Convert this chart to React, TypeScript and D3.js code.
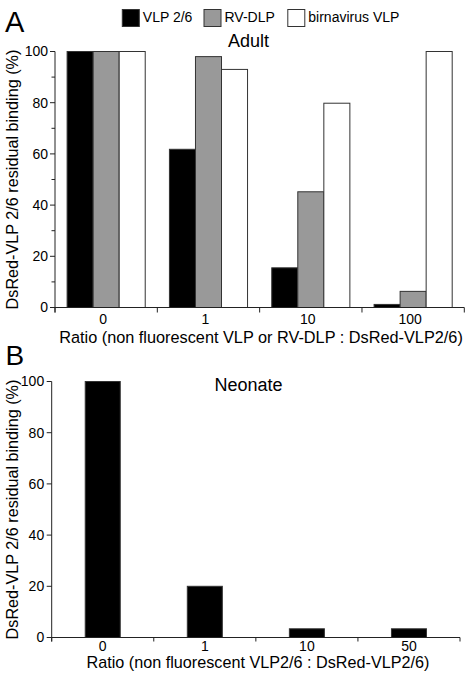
import React from "react";
import * as d3 from "d3";

const categoriesA = ["0", "1", "10", "100"];
const seriesNames = ["VLP 2/6", "RV-DLP", "birnavirus VLP"];
const seriesColors = ["#000000", "#999999", "#ffffff"];
const vlp26Adult = [100, 61.8, 15.5, 1.2];
const rvDlpAdult = [100, 98, 45.2, 6.3];
const birnaAdult = [100, 93, 79.8, 100];
const categoriesB = ["0", "1", "10", "50"];
const vlp26Neonate = [100, 20, 3.4, 3.4];
const yTicks = [0, 20, 40, 60, 80, 100];
const yMinorA = [10, 30, 50, 70, 90];

const FONT = "'Liberation Sans', Arial, Helvetica, sans-serif";
const YLABEL = "DsRed-VLP 2/6 residual binding (%)";

export default function App() {
  // Panel A geometry
  const A = { left: 55, right: 464.3, top: 51.5, bottom: 307.5 };
  const B = { left: 51.7, right: 460, top: 381.5, bottom: 637.5 };

  const xA = d3.scaleBand<string>().domain(categoriesA).range([A.left, A.right]).padding(0);
  const yA = d3.scaleLinear().domain([0, 100]).range([A.bottom, A.top]);
  const inner = d3
    .scaleBand<string>()
    .domain(seriesNames)
    .range([0, xA.bandwidth()])
    .paddingInner(0)
    .paddingOuter(0.465);
  const seriesA = [vlp26Adult, rvDlpAdult, birnaAdult];

  const xB = d3.scaleBand<string>().domain(categoriesB).range([B.left, B.right]).padding(0);
  const yB = d3.scaleLinear().domain([0, 100]).range([B.bottom, B.top]);
  const barWB = xB.bandwidth() * 0.343;

  const boundA = [...categoriesA.map((c) => xA(c)!), A.right];
  const boundB = [...categoriesB.map((c) => xB(c)!), B.right];

  const axisColor = "#222";

  return (
    <svg
      width={475}
      height={675}
      style={{ position: "absolute", left: 0, top: 0, background: "#fff" }}
      fontFamily={FONT}
    >
      <rect x={0} y={0} width={475} height={675} fill="#fff" />
      {/* Panel letters */}
      <text x={5} y={32} fontSize={29}>A</text>
      <text x={5.5} y={365} fontSize={28}>B</text>

      {/* Legend */}
      {[122.3, 204, 287.8].map((lx, i) => (
        <g key={i}>
          <rect x={lx} y={9.5} width={17} height={17} fill={seriesColors[i]} stroke="#333" strokeWidth={1} />
          <text x={lx + 20.5} y={22} fontSize={14}>{seriesNames[i]}</text>
        </g>
      ))}

      {/* Panel A */}
      <text x={248.5} y={46.5} fontSize={18} textAnchor="middle">Adult</text>
      {categoriesA.map((c, ci) =>
        seriesNames.map((s, si) => {
          const v = seriesA[si][ci];
          return (
            <rect
              key={c + s}
              x={xA(c)! + inner(s)!}
              y={yA(v)}
              width={inner.bandwidth()}
              height={yA(0) - yA(v)}
              fill={seriesColors[si]}
              stroke="#333"
              strokeWidth={1}
            />
          );
        })
      )}
      <line x1={A.left} x2={A.left} y1={A.top} y2={A.bottom + 5} stroke={axisColor} />
      <line x1={A.left} x2={A.right} y1={A.bottom} y2={A.bottom} stroke={axisColor} />
      {yTicks.map((t) => (
        <g key={t}>
          <line x1={A.left - 5} x2={A.left} y1={yA(t)} y2={yA(t)} stroke={axisColor} />
          <text x={A.left - 7} y={yA(t)} dy="0.35em" fontSize={14} textAnchor="end">{t}</text>
        </g>
      ))}
      {yMinorA.map((t) => (
        <line key={t} x1={A.left - 3.5} x2={A.left} y1={yA(t)} y2={yA(t)} stroke={axisColor} />
      ))}
      {boundA.map((bx, i) => (
        <line key={i} x1={bx} x2={bx} y1={A.bottom} y2={A.bottom + 5} stroke={axisColor} />
      ))}
      {categoriesA.map((c) => (
        <text key={c} x={xA(c)! + xA.bandwidth() / 2 - 3} y={A.bottom + 16.5} fontSize={14} textAnchor="middle">
          {c}
        </text>
      ))}
      <text x={261} y={342.7} fontSize={16.3} textAnchor="middle">
        Ratio (non fluorescent VLP or RV-DLP : DsRed-VLP2/6)
      </text>
      <text
        transform={`translate(17.5,${(A.top + A.bottom) / 2}) rotate(-90)`}
        fontSize={16.2}
        textAnchor="middle"
      >
        {YLABEL}
      </text>

      {/* Panel B */}
      <text x={248.5} y={391} fontSize={18} textAnchor="middle">Neonate</text>
      {categoriesB.map((c, ci) => {
        const v = vlp26Neonate[ci];
        return (
          <rect
            key={c}
            x={xB(c)! + (xB.bandwidth() - barWB) / 2}
            y={yB(v)}
            width={barWB}
            height={yB(0) - yB(v)}
            fill="#000"
            stroke="#333"
            strokeWidth={1}
          />
        );
      })}
      <line x1={B.left} x2={B.left} y1={B.top} y2={B.bottom + 4} stroke={axisColor} />
      <line x1={B.left} x2={B.right} y1={B.bottom} y2={B.bottom} stroke={axisColor} />
      {yTicks.map((t) => (
        <g key={t}>
          <line x1={B.left - 5} x2={B.left} y1={yB(t)} y2={yB(t)} stroke={axisColor} />
          <text x={B.left - 7.5} y={yB(t)} dy="0.35em" fontSize={14} textAnchor="end">{t}</text>
        </g>
      ))}
      {boundB.map((bx, i) => (
        <line key={i} x1={bx} x2={bx} y1={B.bottom} y2={B.bottom + 4} stroke={axisColor} />
      ))}
      {categoriesB.map((c) => (
        <text key={c} x={xB(c)! + xB.bandwidth() / 2} y={B.bottom + 13} fontSize={14} textAnchor="middle">
          {c}
        </text>
      ))}
      <text x={258} y={668.3} fontSize={16.2} textAnchor="middle">
        Ratio (non fluorescent VLP2/6 : DsRed-VLP2/6)
      </text>
      <text
        transform={`translate(17.5,${(B.top + B.bottom) / 2}) rotate(-90)`}
        fontSize={16.2}
        textAnchor="middle"
      >
        {YLABEL}
      </text>
    </svg>
  );
}
